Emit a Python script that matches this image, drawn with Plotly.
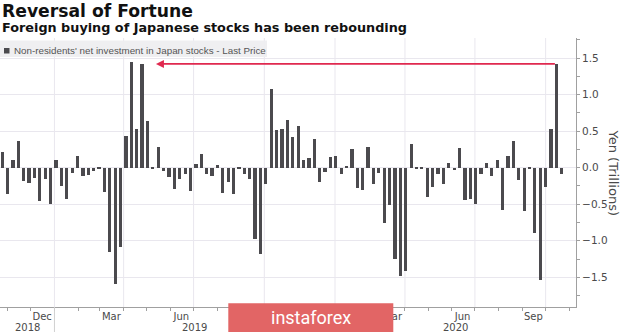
import pandas as pd
import plotly.graph_objects as go

# ---------------- data ----------------
week_start = "2018-10-25"
net_investment = [
    0.22, -0.36, 0.10, 0.36, -0.18, -0.21, -0.14, -0.45, -0.16, -0.50,
    0.10, -0.25, -0.43, -0.07, 0.16, -0.12, -0.10, -0.05, -0.01, -0.33,
    -1.16, -1.59, -1.09, 0.43, 1.45, 0.53, 1.42, 0.64, -0.01, 0.28,
    -0.05, -0.13, -0.29, -0.15, -0.09, -0.32, 0.05, 0.19, -0.09, -0.11,
    0.03, -0.34, -0.19, -0.36, -0.01, -0.09, -0.16, -0.97, -1.18, -0.22,
    1.07, 0.51, 0.53, 0.65, 0.42, 0.57, 0.105, 0.13, 0.39, -0.20,
    -0.06, 0.14, 0.16, -0.09, 0.01, 0.26, -0.28, -0.30, 0.28, -0.22,
    -0.07, -0.75, -0.51, -1.25, -1.48, -1.42, 0.32, -0.005, -0.005, -0.40,
    -0.27, -0.09, -0.22, 0.07, -0.03, 0.27, -0.44, -0.43, -0.50, -0.08,
    0.06, -0.11, 0.10, -0.58, 0.16, 0.37, -0.17, -0.59, -0.005, -0.90,
    -1.53, -0.27, 0.53, 1.42, -0.08,
]
weeks = pd.date_range(week_start, periods=len(net_investment), freq="7D")

# month labels visible in the reference (Sep/Dec 2019 are hidden under the watermark)
month_tick_dates = ["2018-12-16", "2019-03-16", "2019-06-15",
                    "2020-03-16", "2020-06-15", "2020-09-15"]
month_tick_labels = ["Dec", "Mar", "Jun", "Mar", "Jun", "Sep"]
year_labels = ["2018", "2019", "2020"]
year_starts = ["2019-01-01", "2020-01-01"]
quarter_starts = ["2019-01-01", "2019-04-01", "2019-07-01", "2019-10-01",
                  "2020-01-01", "2020-04-01", "2020-07-01", "2020-10-01"]

title = "Reversal of Fortune"
subtitle = "Foreign buying of Japanese stocks has been rebounding"
series_name = "Non-residents' net investment in Japan stocks - Last Price"
y_title = "Yen (Trillions)"

# ---------------- layout constants ----------------
W, H = 620, 332
ML, MR, MT, MB = 0, 44, 38, 25
PW = W - ML - MR
PH = H - MT - MB
x_range = [pd.Timestamp("2018-10-22 04:00"), pd.Timestamp("2020-11-09 12:00")]
y_range = [-1.906, 1.774]

BAR = "#4b4a4e"
GRID = "#e9e7ee"
AXIS = "#a0a0a0"
TXT = "#4a4a4a"
RED = "#e0294f"


def px_x(px):
    return (px - ML) / PW


def px_y(py):
    return (MT + PH - py) / PH


def mid(a, b):
    a, b = pd.Timestamp(a), pd.Timestamp(b)
    return a + (b - a) / 2


fig = go.Figure()
fig.add_trace(go.Bar(
    x=weeks, y=net_investment, name=series_name,
    marker=dict(color=BAR, line=dict(width=0)),
    width=4.2 * 86400000, showlegend=False,
))

shapes = []
for q in quarter_starts:
    shapes.append(dict(type="line", xref="x", yref="paper", x0=q, x1=q, y0=0, y1=1,
                       line=dict(color=GRID, width=1), layer="below"))
for ys in year_starts:
    shapes.append(dict(type="line", xref="x", yref="paper", x0=ys, x1=ys, y0=0,
                       y1=px_y(H), line=dict(color="#d0d0d0", width=1), layer="above"))
# legend box
shapes.append(dict(type="rect", xref="paper", yref="paper", x0=px_x(0), x1=px_x(267),
                   y0=px_y(57), y1=px_y(40.5), fillcolor="rgba(238,238,240,0.95)",
                   line=dict(width=0), layer="above"))
shapes.append(dict(type="rect", xref="paper", yref="paper", x0=px_x(4), x1=px_x(9.5),
                   y0=px_y(53.5), y1=px_y(48), fillcolor=BAR,
                   line=dict(width=0), layer="above"))
# watermark box
shapes.append(dict(type="rect", xref="paper", yref="paper", x0=px_x(228.3), x1=px_x(393.3),
                   y0=px_y(332), y1=px_y(303.3), fillcolor="#e26565",
                   line=dict(width=0), layer="above"))

annotations = [
    dict(text="<b>%s</b>" % title, xref="paper", yref="paper", x=px_x(0), y=px_y(10.5),
         xanchor="left", yanchor="middle", showarrow=False,
         font=dict(family="DejaVu Sans", size=17.2, color="#111")),
    dict(text="<b>%s</b>" % subtitle, xref="paper", yref="paper", x=px_x(0), y=px_y(27.5),
         xanchor="left", yanchor="middle", showarrow=False,
         font=dict(family="DejaVu Sans", size=12.8, color="#111")),
    dict(text=series_name, xref="paper", yref="paper", x=px_x(11.5), y=px_y(50),
         xanchor="left", yanchor="middle", showarrow=False,
         font=dict(family="Liberation Sans", size=9.8, color="#555")),
    dict(text=y_title, xref="paper", yref="paper", x=px_x(613), y=px_y(172.5),
         xanchor="center", yanchor="middle", showarrow=False, textangle=90,
         font=dict(family="DejaVu Sans", size=13, color=TXT)),
    dict(text="", x=pd.Timestamp("2019-05-13"), y=net_investment[103], xref="x", yref="y",
         ax=weeks[103], ay=net_investment[103], axref="x", ayref="y",
         showarrow=True, arrowhead=2, arrowsize=1, arrowwidth=1.6, arrowcolor=RED),
    dict(text="instaforex", xref="paper", yref="paper", x=px_x(310.5), y=px_y(317.5),
         xanchor="center", yanchor="middle", showarrow=False,
         font=dict(family="Roboto", size=18, color="white")),
]
year_bounds = [x_range[0]] + [pd.Timestamp(y) for y in year_starts] + [x_range[1]]
for i, lab in enumerate(year_labels):
    annotations.append(dict(text=lab, xref="x", yref="paper",
                            x=mid(year_bounds[i], year_bounds[i + 1]), y=px_y(327),
                            xanchor="center", yanchor="middle", showarrow=False,
                            font=dict(family="DejaVu Sans", size=10, color=TXT)))

fig.update_layout(
    width=W, height=H, margin=dict(l=ML, r=MR, t=MT, b=MB, pad=0),
    paper_bgcolor="white", plot_bgcolor="white",
    showlegend=False, bargap=0,
    xaxis=dict(type="date", range=x_range, tickmode="array",
               tickvals=month_tick_dates, ticktext=month_tick_labels,
               ticks="outside", ticklen=0, showgrid=False, zeroline=False,
               showline=True, linecolor=AXIS, linewidth=1,
               tickfont=dict(family="DejaVu Sans", size=10, color=TXT),
               minor=dict(ticks="outside", ticklen=3, tickcolor=AXIS,
                          tickmode="linear", tick0="2018-11-01", dtick="M1", showgrid=False)),
    yaxis=dict(side="right", range=y_range, tickmode="linear", tick0=0, dtick=0.5,
               tickformat=".1f", showgrid=True, gridcolor=GRID, gridwidth=1,
               zeroline=False, showline=True, linecolor=AXIS, linewidth=1,
               ticks="outside", ticklen=3, tickcolor=AXIS,
               tickfont=dict(family="DejaVu Sans", size=10.5, color=TXT),
               minor=dict(ticks="outside", ticklen=3, tickcolor=AXIS, dtick=0.25, showgrid=False)),
    shapes=shapes, annotations=annotations,
)

fig.write_html("out.html")
